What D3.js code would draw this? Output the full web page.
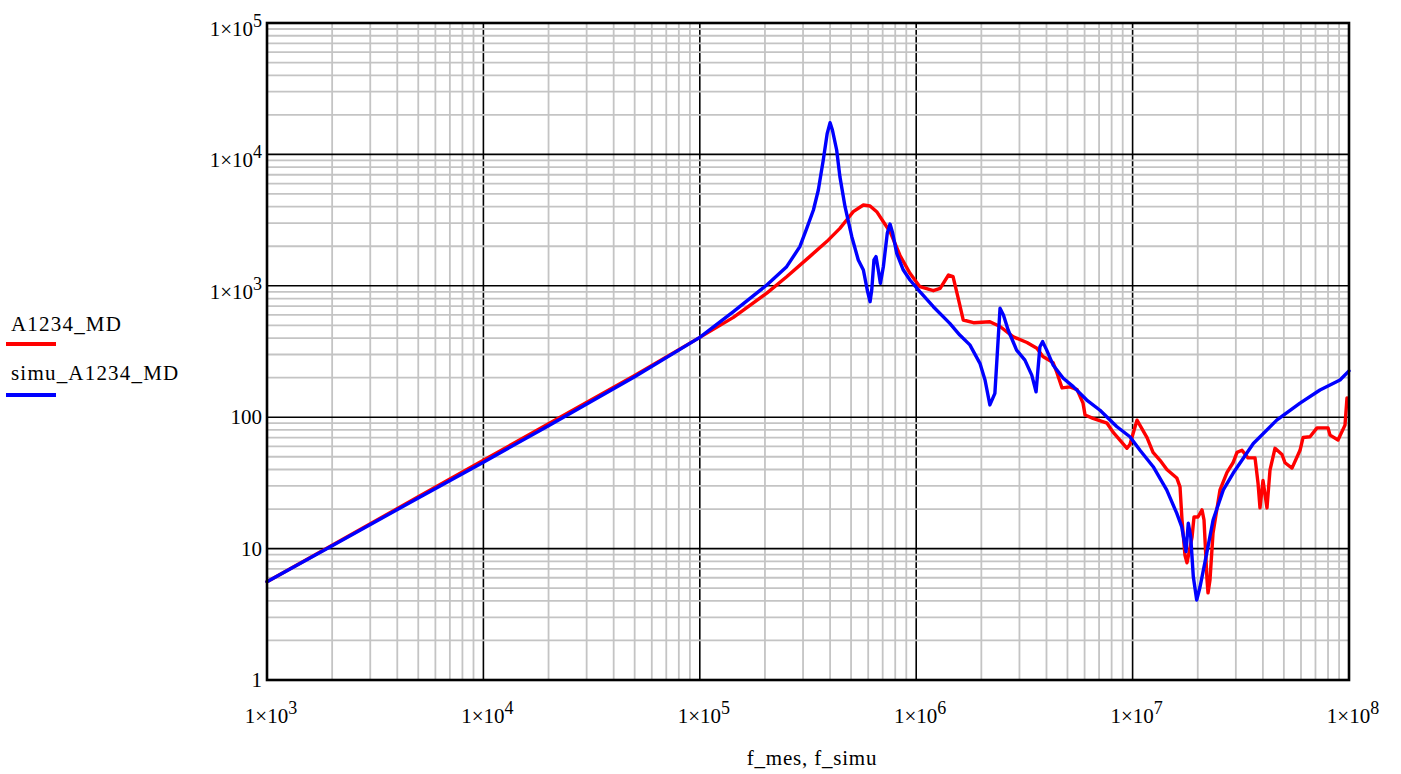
<!DOCTYPE html>
<html>
<head>
<meta charset="utf-8">
<script src="https://cdn.jsdelivr.net/npm/d3@7"></script>
<style>
  html, body { margin: 0; padding: 0; background: #fff; }
  svg { display: block; }
  text { font-family: "Liberation Serif", "Times New Roman", serif; fill: #000; }
</style>
</head>
<body>
<svg id="chart" width="1401" height="774"></svg>
<script>
// ---------------- DATA ----------------
const xTicks = [1e3, 1e4, 1e5, 1e6, 1e7, 1e8];
const xTickLabels = ["1×10^3", "1×10^4", "1×10^5", "1×10^6", "1×10^7", "1×10^8"];
const yTicks = [1, 10, 100, 1e3, 1e4, 1e5];
const yTickLabels = ["1", "10", "100", "1×10^3", "1×10^4", "1×10^5"];
const seriesNames = ["A1234_MD", "simu_A1234_MD"];
const xAxisTitle = "f_mes, f_simu";

const redF = [1e3, 2e3, 5e3, 1e4, 2e4, 5e4, 1e5, 1.43e5, 2.04e5, 2.52e5, 3.22e5, 3.86e5, 4.44e5, 4.77e5, 5.12e5, 5.70e5, 6.12e5, 6.57e5, 7.05e5, 7.57e5, 8.42e5, 9.36e5, 1.04e6, 1.20e6, 1.29e6, 1.41e6, 1.48e6, 1.57e6, 1.65e6, 1.84e6, 2.19e6, 2.44e6, 2.80e6, 3.25e6, 3.61e6, 3.85e6, 4.29e6, 4.47e6, 4.72e6, 5.14e6, 5.54e6, 5.90e6, 6.03e6, 6.56e6, 7.62e6, 8.12e6, 8.74e6, 9.42e6, 9.72e6, 1.048e7, 1.166e7, 1.243e7, 1.339e7, 1.44e7, 1.60e7, 1.656e7, 1.692e7, 1.746e7, 1.784e7, 1.882e7, 1.922e7, 2.005e7, 2.093e7, 2.138e7, 2.207e7, 2.231e7, 2.279e7, 2.353e7, 2.535e7, 2.731e7, 2.911e7, 3.037e7, 3.202e7, 3.414e7, 3.679e7, 3.798e7, 3.879e7, 4.005e7, 4.179e7, 4.314e7, 4.550e7, 4.902e7, 5.062e7, 5.453e7, 5.939e7, 6.131e7, 6.604e7, 7.114e7, 8.000e7, 8.172e7, 8.897e7, 9.583e7, 9.79e7];
const redV = [5.6, 10.6, 24.8, 47, 89, 208, 405, 575, 880, 1173, 1667, 2170, 2737, 3170, 3665, 4120, 4050, 3665, 3075, 2580, 1700, 1245, 985, 918, 957, 1208, 1173, 780, 549, 524, 533, 490, 410, 370, 335, 290, 260, 218, 167, 170, 162, 128, 104, 98, 90, 77, 67, 58, 62, 95, 70, 54, 47, 40, 34.5, 29.5, 16.5, 8.9, 7.8, 12.2, 17.4, 17.4, 19.7, 16.5, 5.8, 4.6, 5.8, 13.1, 28, 38, 45, 54, 56, 49, 49, 31.6, 20.4, 33, 20.4, 39.5, 58, 52, 45, 41, 56, 70, 71, 83, 83, 73, 67, 87, 140];

const blueF = [1e3, 2e3, 5e3, 1e4, 2e4, 5e4, 1e5, 1.43e5, 2.04e5, 2.52e5, 2.90e5, 3.12e5, 3.35e5, 3.53e5, 3.72e5, 3.88e5, 4.00e5, 4.10e5, 4.29e5, 4.44e5, 4.69e5, 5.04e5, 5.40e5, 5.70e5, 5.94e5, 6.12e5, 6.23e5, 6.38e5, 6.52e5, 6.68e5, 6.83e5, 7.05e5, 7.35e5, 7.57e5, 7.79e5, 8.13e5, 8.72e5, 9.36e5, 1.04e6, 1.20e6, 1.43e6, 1.59e6, 1.77e6, 1.97e6, 2.08e6, 2.19e6, 2.31e6, 2.44e6, 2.53e6, 2.66e6, 2.91e6, 3.18e6, 3.42e6, 3.58e6, 3.73e6, 3.84e6, 4.01e6, 4.29e6, 4.78e6, 5.32e6, 6.14e6, 7.07e6, 8.44e6, 9.72e6, 1.082e7, 1.245e7, 1.437e7, 1.599e7, 1.686e7, 1.765e7, 1.809e7, 1.856e7, 1.908e7, 1.978e7, 2.049e7, 2.200e7, 2.355e7, 2.625e7, 2.913e7, 3.613e7, 4.634e7, 5.939e7, 7.345e7, 9.088e7, 1e8];
const blueV = [5.6, 10.5, 24.3, 45.5, 86, 203, 405, 636, 1014, 1398, 1985, 2737, 3773, 5360, 9060, 14460, 17420, 15340, 10800, 6770, 4000, 2365, 1572, 1318, 929, 757, 929, 1572, 1667, 1318, 1044, 1398, 2508, 2952, 2508, 1766, 1318, 1107, 902, 693, 518, 422, 355, 257, 192, 124, 152, 674, 600, 461, 324, 272, 209, 156, 344, 376, 324, 250, 198, 171, 135, 113, 85, 71, 56, 42, 28, 18.6, 14.7, 9.5, 15.6, 12.3, 6.1, 4.06, 5.1, 9.2, 16.5, 28, 37.4, 63, 95, 128, 161, 192, 225];

// ---------------- CHART ----------------
const svg = d3.select("#chart");
const plot = { left: 267, right: 1349, top: 23, bottom: 680 };

const x = d3.scaleLog().domain([1e3, 1e8]).range([plot.left, plot.right]);
const y = d3.scaleLog().domain([1, 1e5]).range([plot.bottom, plot.top]);

svg.append("rect").attr("width", 1401).attr("height", 774).attr("fill", "#fff");

function minors(lo, hi) {
  const out = [];
  for (let d = lo; d < hi; d *= 10) for (let k = 2; k <= 9; k++) out.push(d * k);
  return out;
}
const xMinor = minors(1e3, 1e8);
const yMinor = minors(1, 1e5);

const grid = svg.append("g");
grid.selectAll(".vmaj").data(xTicks.slice(1, -1)).enter().append("line")
  .attr("x1", d => x(d)).attr("x2", d => x(d))
  .attr("y1", plot.top).attr("y2", plot.bottom)
  .attr("stroke", "#000").attr("stroke-width", 1.6);
grid.selectAll(".hmin").data(yMinor).enter().append("line")
  .attr("x1", plot.left).attr("x2", plot.right)
  .attr("y1", d => y(d)).attr("y2", d => y(d))
  .attr("stroke", "#c4c4c4").attr("stroke-width", 1.8);
grid.selectAll(".vmin").data(xMinor).enter().append("line")
  .attr("x1", d => x(d)).attr("x2", d => x(d))
  .attr("y1", plot.top).attr("y2", plot.bottom)
  .attr("stroke", "#c4c4c4").attr("stroke-width", 1.8);
grid.selectAll(".hmaj").data(yTicks.slice(1, -1)).enter().append("line")
  .attr("x1", plot.left).attr("x2", plot.right)
  .attr("y1", d => y(d)).attr("y2", d => y(d))
  .attr("stroke", "#000").attr("stroke-width", 1.6);

const line = d3.line().x(d => x(d[0])).y(d => y(d[1]));
const redData = d3.zip(redF, redV);
const blueData = d3.zip(blueF, blueV);
svg.append("path").datum(redData).attr("d", line)
  .attr("fill", "none").attr("stroke", "#ff0000").attr("stroke-width", 3.4)
  .attr("stroke-linejoin", "round").attr("stroke-linecap", "round");
svg.append("path").datum(blueData).attr("d", line)
  .attr("fill", "none").attr("stroke", "#0000ff").attr("stroke-width", 3.4)
  .attr("stroke-linejoin", "round").attr("stroke-linecap", "round");

svg.append("rect")
  .attr("x", plot.left).attr("y", plot.top)
  .attr("width", plot.right - plot.left).attr("height", plot.bottom - plot.top)
  .attr("fill", "none").attr("stroke", "#000").attr("stroke-width", 2.6);

function writeLabel(sel, label) {
  const parts = label.split("^");
  sel.append("tspan").text(parts[0]);
  if (parts.length > 1) {
    sel.append("tspan").attr("dy", -9).attr("font-size", 18).text(parts[1]);
  }
}

yTicks.forEach((v, i) => {
  const lab = yTickLabels[i];
  const hasExp = lab.indexOf("^") >= 0;
  const t = svg.append("text")
    .attr("x", 262)
    .attr("y", y(v) + (hasExp ? 13 : 7))
    .attr("text-anchor", "end")
    .attr("font-size", 21);
  writeLabel(t, lab);
});

xTicks.forEach((v, i) => {
  const t = svg.append("text")
    .attr("x", x(v) + 4)
    .attr("y", 723)
    .attr("text-anchor", "middle")
    .attr("font-size", 21);
  writeLabel(t, xTickLabels[i]);
});

svg.append("text")
  .attr("x", 812).attr("y", 765)
  .attr("text-anchor", "middle")
  .attr("font-size", 21)
  .attr("letter-spacing", 0.8)
  .text(xAxisTitle);

const legendColors = ["#ff0000", "#0000ff"];
const legendTextY = [331, 380];
const legendLineY = [344, 395];
seriesNames.forEach((name, i) => {
  svg.append("text")
    .attr("x", 11).attr("y", legendTextY[i])
    .attr("font-size", 21)
    .attr("letter-spacing", 1.2)
    .text(name);
  svg.append("line")
    .attr("x1", 6).attr("x2", 56)
    .attr("y1", legendLineY[i]).attr("y2", legendLineY[i])
    .attr("stroke", legendColors[i]).attr("stroke-width", 4);
});
</script>
</body>
</html>
